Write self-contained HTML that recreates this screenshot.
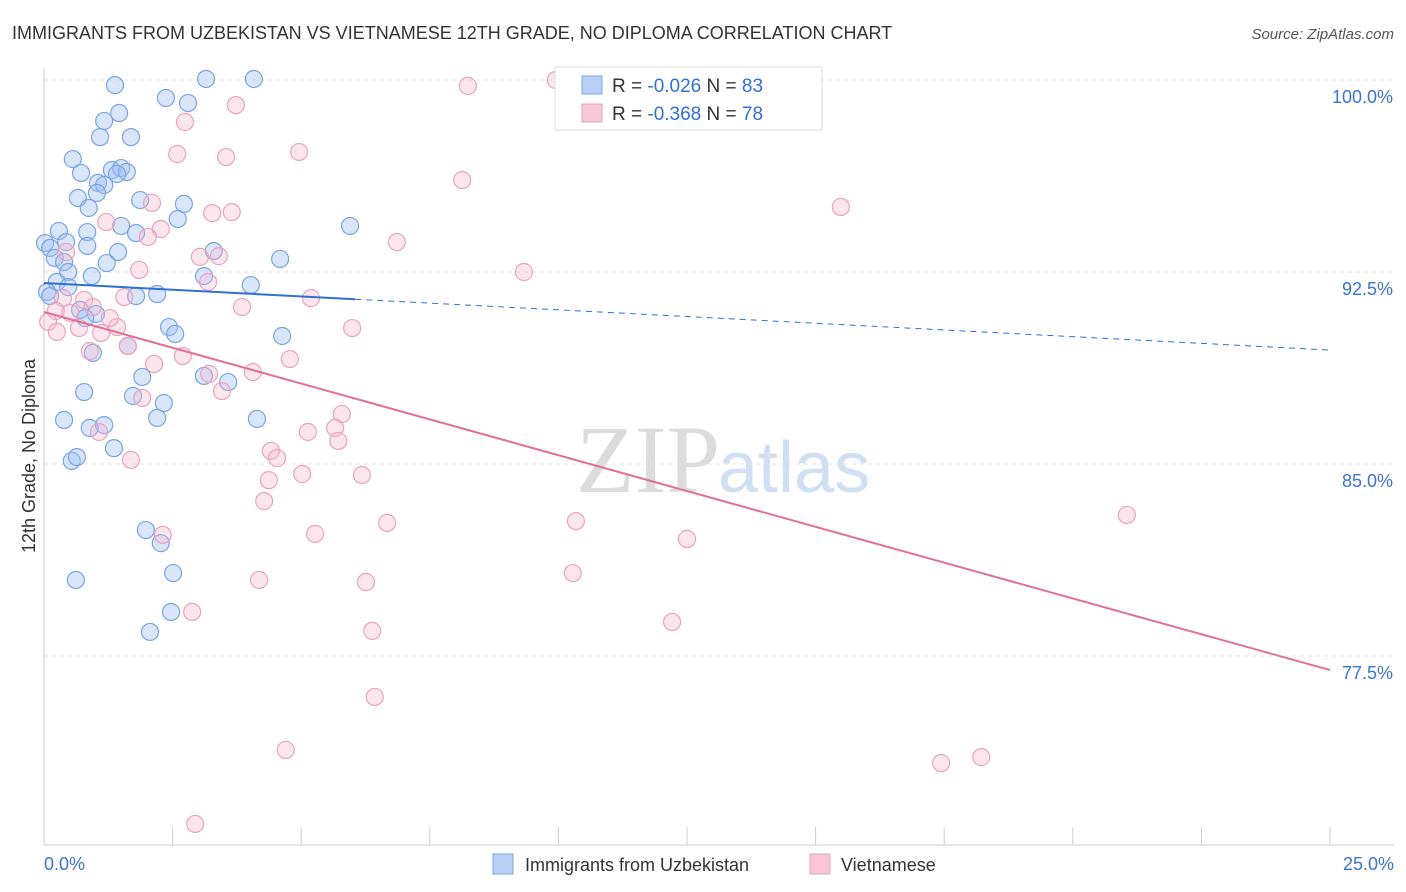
<!DOCTYPE html>
<html><head><meta charset="utf-8"><style>
body{margin:0;background:#fff;font-family:"Liberation Sans",sans-serif;}
#c{position:relative;width:1406px;height:892px;overflow:hidden;}
</style></head><body>
<div id="c">
<svg id="s" width="1406" height="892" xmlns="http://www.w3.org/2000/svg">
<text x="12" y="39" font-size="18" fill="#333">IMMIGRANTS FROM UZBEKISTAN VS VIETNAMESE 12TH GRADE, NO DIPLOMA CORRELATION CHART</text>
<text x="1394" y="39" font-size="15" fill="#555" font-style="italic" text-anchor="end">Source: ZipAtlas.com</text>
<text x="720" y="492" font-size="96" fill="#dcdcdc" text-anchor="end" font-family="Liberation Serif">ZIP</text>
<text x="718" y="492" font-size="72" fill="#cfe0f5">atlas</text>
<g id="grid"></g><g id="axes"></g><g id="pts"></g><g id="trend"></g>
<text transform="translate(35,456) rotate(-90)" font-size="18" fill="#333" text-anchor="middle">12th Grade, No Diploma</text>
<g>
<rect x="555" y="67" width="267" height="63" fill="#fff" stroke="#ddd"/>
<rect x="582" y="76" width="20" height="18" fill="#b8d0f5" stroke="#7aa6e8"/>
<rect x="582" y="104" width="20" height="18" fill="#f8c6d6" stroke="#eba3bd"/>
<text x="612" y="92" font-size="19" fill="#333">R = <tspan fill="#2f6fd6">-0.026</tspan>   N = <tspan fill="#2f6fd6">83</tspan></text>
<text x="612" y="120" font-size="19" fill="#333">R = <tspan fill="#2f6fd6">-0.368</tspan>   N = <tspan fill="#2f6fd6">78</tspan></text>
</g>
<g>
<rect x="493" y="854" width="20" height="20" fill="#b8d0f5" stroke="#7aa6e8"/>
<text x="525" y="871" font-size="18" fill="#333">Immigrants from Uzbekistan</text>
<rect x="810" y="854" width="20" height="20" fill="#f8c6d6" stroke="#eba3bd"/>
<text x="841" y="871" font-size="18" fill="#333">Vietnamese</text>
</g>
</svg>
</div>
<script>
const blueX=[1.38,3.15,4.08,2.37,2.80,1.46,1.17,1.09,1.69,0.56,0.72,1.32,1.50,1.61,1.42,1.05,1.17,1.03,0.66,1.87,0.87,2.72,2.60,5.95,1.50,1.79,0.29,0.84,0.02,0.43,0.12,0.84,1.44,3.30,0.21,0.39,4.59,1.22,0.47,0.93,3.11,4.02,0.25,0.47,0.06,0.12,2.20,1.79,0.70,1.01,0.80,2.43,2.55,4.63,1.63,0.95,1.91,3.11,3.58,0.78,1.73,2.33,2.20,0.39,4.14,0.89,1.17,1.36,0.54,0.64,1.98,2.27,0.62,2.51,2.47,2.06];
const blueY=[99.80,100.04,100.04,99.30,99.10,98.71,98.40,97.77,97.77,96.91,96.37,96.48,96.56,96.41,96.33,95.98,95.90,95.59,95.39,95.31,95.0,95.16,94.57,94.30,94.30,94.02,94.10,94.06,93.63,93.67,93.44,93.52,93.28,93.32,93.05,92.89,93.01,92.85,92.50,92.34,92.34,91.99,92.11,91.91,91.72,91.56,91.64,91.56,91.02,90.86,90.70,90.35,90.08,90.0,89.61,89.34,88.40,88.44,88.20,87.81,87.66,87.38,86.80,86.72,86.76,86.41,86.52,85.62,85.12,85.27,82.42,81.91,80.47,80.74,79.22,78.44];
const pinkX=[9.95,8.24,3.73,2.74,2.59,3.54,4.96,8.13,2.10,3.27,3.65,15.49,2.27,1.21,2.02,6.86,0.43,1.85,3.03,3.40,9.33,3.19,0.37,0.78,0.95,1.56,5.19,3.85,0.23,0.51,0.08,0.25,0.68,1.42,1.28,5.99,1.11,1.63,0.89,2.70,4.78,2.14,4.06,3.21,3.46,1.91,5.79,5.13,5.66,5.72,1.07,4.41,4.53,1.69,5.02,6.18,4.37,4.28,6.67,10.34,21.05,2.31,5.27,12.50,4.18,6.26,10.28,2.88,12.21,6.38,6.43,4.70,18.22,17.44,2.94];
const pinkY=[100.0,99.77,99.02,98.36,97.11,96.99,97.19,96.09,95.20,94.80,94.84,95.04,94.18,94.45,93.87,93.67,93.28,92.58,93.09,93.12,92.50,92.11,91.48,91.41,91.13,91.52,91.48,91.13,90.98,90.90,90.55,90.16,90.31,90.35,90.70,90.31,90.12,89.61,89.41,89.22,89.10,88.91,88.59,88.52,87.85,87.58,86.95,86.25,86.41,85.90,86.25,85.51,85.23,85.16,84.61,84.57,84.37,83.55,82.70,82.77,83.01,82.23,82.27,82.07,80.47,80.39,80.74,79.22,78.83,78.48,75.90,73.83,73.55,73.32,70.94];
const yTicks=[100,92.5,85,77.5];
const yTickLabels=["100.0%","92.5%","85.0%","77.5%"];
const xTicks=[0,2.5,5,7.5,10,12.5,15,17.5,20,22.5,25];
const blueTrend=[92.07,89.45];
const pinkTrend=[90.94,76.95];
const blueSolidEnd=6.05;

const NS="http://www.w3.org/2000/svg";
const X=v=>44+v*51.44;
const Y=v=>80+(100-v)*25.6;
function mk(t,a,p){const e=document.createElementNS(NS,t);for(const k in a)e.setAttribute(k,a[k]);p.appendChild(e);return e;}
const grid=document.getElementById('grid'),axes=document.getElementById('axes'),pts=document.getElementById('pts'),tr=document.getElementById('trend');
yTicks.forEach((v,i)=>{
 const l=mk('line',{x1:44,x2:1394,y1:Y(v),y2:Y(v),stroke:'#e2e2e2','stroke-dasharray':'4,4'},grid);
 
 
 const t=mk('text',{x:1393,y:Y(v)+23,'font-size':18,fill:'#3a74d0','text-anchor':'end'},axes);
 t.textContent=yTickLabels[i];
 
 
});
const ya=mk('line',{x1:44,x2:44,y1:68,y2:845,stroke:'#ccc'},axes);


const xa=mk('line',{x1:44,x2:1394,y1:845,y2:845,stroke:'#ccc'},axes);


xTicks.forEach(v=>{
 const l=mk('line',{x1:X(v),x2:X(v),y1:827,y2:845,stroke:'#ccc'},axes);
 
 
});
[[0,"0.0%",'start',44],[25,"25.0%",'end',1394]].forEach(d=>{
 const t=mk('text',{x:d[3],y:870,'font-size':18,fill:'#3a74d0','text-anchor':d[2]},axes);
 t.textContent=d[1];
 
 
});
blueX.forEach((x,i)=>{
 const c=mk('circle',{cx:X(x),cy:Y(blueY[i]),r:8.5,fill:'rgba(160,192,242,0.4)',stroke:'#78a4e6','stroke-width':1.2},pts);
 
 
});
pinkX.forEach((x,i)=>{
 const c=mk('circle',{cx:X(x),cy:Y(pinkY[i]),r:8.5,fill:'rgba(246,182,202,0.35)',stroke:'#eba3bd','stroke-width':1.2},pts);
 
 
});
const bAt=x=>blueTrend[0]+(blueTrend[1]-blueTrend[0])*x/25;
const b1=mk('line',{x1:X(0),y1:Y(blueTrend[0]),x2:X(blueSolidEnd),y2:Y(bAt(blueSolidEnd)),stroke:'#2f6fd6','stroke-width':2},tr);


const b2=mk('line',{x1:X(blueSolidEnd),y1:Y(bAt(blueSolidEnd)),x2:X(25),y2:Y(blueTrend[1]),stroke:'#2f6fd6','stroke-width':1,'stroke-dasharray':'6,5'},tr);


const p1=mk('line',{x1:X(0),y1:Y(pinkTrend[0]),x2:X(25),y2:Y(pinkTrend[1]),stroke:'#e0709a','stroke-width':2},tr);


</script>
</body></html>
